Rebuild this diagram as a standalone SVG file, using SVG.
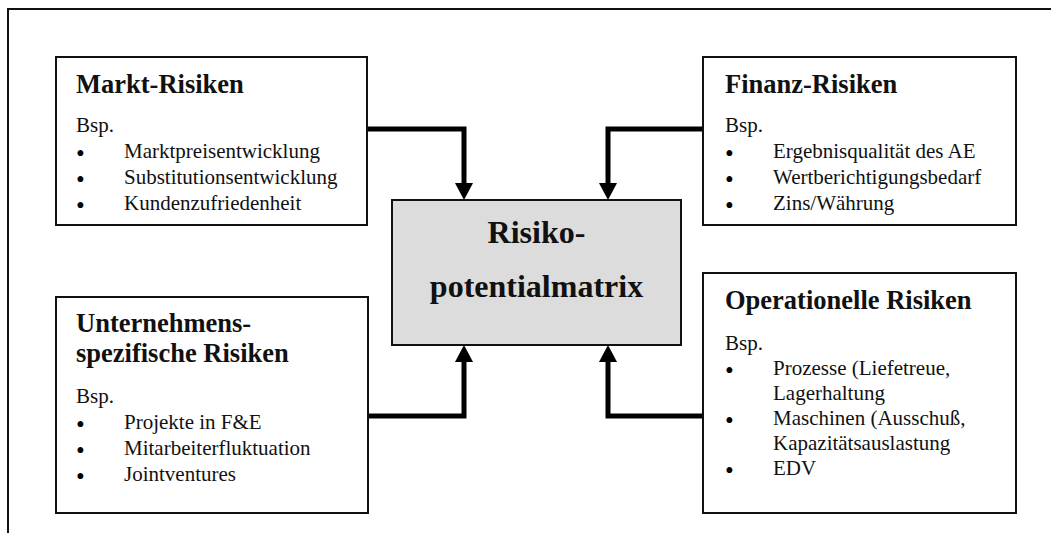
<svg xmlns="http://www.w3.org/2000/svg" width="1051" height="533" viewBox="0 0 1051 533">
<style>
.box{fill:#fff;stroke:#111;stroke-width:2}
.center{fill:#dcdcdc;stroke:#111;stroke-width:2}
.title{font-family:"Liberation Serif","Times New Roman",serif;font-weight:bold;font-size:26.5px;fill:#111}
.big{font-family:"Liberation Serif","Times New Roman",serif;font-weight:bold;font-size:32px;fill:#111;text-anchor:middle}
.body{font-family:"Liberation Serif","Times New Roman",serif;font-size:21px;fill:#111}
.bul{font-size:25px;fill:#000}
.conn{fill:none;stroke:#000;stroke-width:5;stroke-linejoin:miter}
.frame{fill:none;stroke:#111;stroke-width:2}
</style>
<defs>
<marker id="ah" markerUnits="userSpaceOnUse" markerWidth="18" markerHeight="18" refX="0" refY="9" orient="auto" viewBox="0 0 18 18">
<path d="M0,0 L17,9 L0,18 z" fill="#000"/>
</marker>
</defs>
<rect width="1051" height="533" fill="#fff"/>
<path class="frame" d="M8,533 L8,9 L1051,9"/>
<g id="connectors">
<polyline class="conn" points="367,129 464,129 464,183" marker-end="url(#ah)"/>
<polyline class="conn" points="703,129 608,129 608,183" marker-end="url(#ah)"/>
<polyline class="conn" points="367,416 464,416 464,362" marker-end="url(#ah)"/>
<polyline class="conn" points="703,416 608,416 608,362" marker-end="url(#ah)"/>
</g>
<g id="markt">
<rect class="box" x="56" y="57" width="311" height="168"/>
<text class="title" x="76" y="93">Markt-Risiken</text>
<text class="body" x="76" y="132">Bsp.</text>
<text class="body" y="158"><tspan class="bul" x="76" dy="4">•</tspan><tspan x="124" dy="-4">Marktpreisentwicklung</tspan></text>
<text class="body" y="184"><tspan class="bul" x="76" dy="4">•</tspan><tspan x="124" dy="-4">Substitutionsentwicklung</tspan></text>
<text class="body" y="210"><tspan class="bul" x="76" dy="4">•</tspan><tspan x="124" dy="-4">Kundenzufriedenheit</tspan></text>
</g>
<g id="finanz">
<rect class="box" x="703" y="57" width="313" height="168"/>
<text class="title" x="725" y="93">Finanz-Risiken</text>
<text class="body" x="725" y="132">Bsp.</text>
<text class="body" y="158"><tspan class="bul" x="725" dy="4">•</tspan><tspan x="773" dy="-4">Ergebnisqualität des AE</tspan></text>
<text class="body" y="184"><tspan class="bul" x="725" dy="4">•</tspan><tspan x="773" dy="-4">Wertberichtigungsbedarf</tspan></text>
<text class="body" y="210"><tspan class="bul" x="725" dy="4">•</tspan><tspan x="773" dy="-4">Zins/Währung</tspan></text>
</g>
<g id="unternehmens">
<rect class="box" x="56" y="297" width="312" height="216"/>
<text class="title" x="76" y="332">Unternehmens-</text>
<text class="title" x="76" y="362">spezifische Risiken</text>
<text class="body" x="76" y="403">Bsp.</text>
<text class="body" y="429"><tspan class="bul" x="76" dy="4">•</tspan><tspan x="124" dy="-4">Projekte in F&amp;E</tspan></text>
<text class="body" y="455"><tspan class="bul" x="76" dy="4">•</tspan><tspan x="124" dy="-4">Mitarbeiterfluktuation</tspan></text>
<text class="body" y="481"><tspan class="bul" x="76" dy="4">•</tspan><tspan x="124" dy="-4">Jointventures</tspan></text>
</g>
<g id="operationelle">
<rect class="box" x="703" y="273" width="313" height="240"/>
<text class="title" x="725" y="309">Operationelle Risiken</text>
<text class="body" x="725" y="350">Bsp.</text>
<text class="body" y="375"><tspan class="bul" x="725" dy="4">•</tspan><tspan x="773" dy="-4">Prozesse (Liefetreue,</tspan></text>
<text class="body" x="773" y="400">Lagerhaltung</text>
<text class="body" y="425"><tspan class="bul" x="725" dy="4">•</tspan><tspan x="773" dy="-4">Maschinen (Ausschuß,</tspan></text>
<text class="body" x="773" y="450">Kapazitätsauslastung</text>
<text class="body" y="475"><tspan class="bul" x="725" dy="4">•</tspan><tspan x="773" dy="-4">EDV</tspan></text>
</g>
<g id="matrix">
<rect class="center" x="392" y="200" width="289" height="145"/>
<text class="big" x="536.5" y="243">Risiko-</text>
<text class="big" x="536.5" y="297">potentialmatrix</text>
</g>
</svg>
